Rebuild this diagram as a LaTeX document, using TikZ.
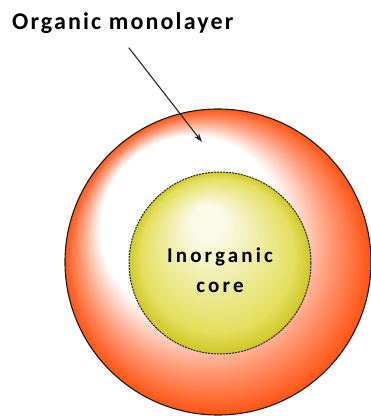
\documentclass[tikz,border=0pt]{standalone}
\usepackage{fontspec}
\setmainfont{Carlito}
\usepackage{tikz}
\usetikzlibrary{arrows.meta, positioning, calc}
\definecolor{shellred}{HTML}{FF5514}
\definecolor{shellmid}{HTML}{FF9A76}
\definecolor{coreolive}{HTML}{D0C828}
\definecolor{coremid}{HTML}{E4DF5E}
\definecolor{corelight}{HTML}{FBFAE6}

\begin{document}
\begin{tikzpicture}[
    x=1pt, y=1pt,
    shell_ring/.style={circle, draw=black!90, line width=1.1pt, minimum size=306pt, inner sep=0pt},
    core_disc/.style={circle, draw=black!85, line width=1pt, dash pattern=on 2pt off 1pt, minimum size=182pt, inner sep=0pt},
    core_text/.style={align=center, inner sep=0pt, font=\addfontfeatures{LetterSpace=15}\fontsize{21}{30}\selectfont\bfseries},
    arrow/.style={-{Stealth[length=9pt, width=6pt]}, line width=1.1pt, draw=black!85},
    label/.style={font=\addfontfeatures{LetterSpace=9}\fontsize{24}{26}\selectfont\bfseries, inner sep=0pt, anchor=west}
]
\useasboundingbox (0,0) rectangle (371,416);

\coordinate (shellc) at (218,154);
\coordinate (corec) at (220,153);

\foreach \k in {0,...,25}{
  \pgfmathsetmacro\t{0.18*\k/25}
  \pgfmathsetmacro\p{100*\k/25}
  \fill[shellmid!\p!shellred] ($(shellc)+\t*(-65,85)$) circle ({153*(1-\t)});
}
\foreach \k in {0,...,30}{
  \pgfmathsetmacro\t{0.18+0.22*\k/30}
  \pgfmathsetmacro\p{100*\k/30}
  \fill[white!\p!shellmid] ($(shellc)+\t*(-65,85)$) circle ({153*(1-\t)});
}
\node[shell_ring] (shell) at (shellc) {};

\foreach \k in {0,...,15}{
  \pgfmathsetmacro\t{0.15*\k/15}
  \pgfmathsetmacro\p{100*\k/15}
  \fill[coremid!\p!coreolive] ($(corec)+\t*(-15,50)$) circle ({91*(1-\t)});
}
\foreach \k in {0,...,40}{
  \pgfmathsetmacro\t{0.15+0.65*\k/40}
  \pgfmathsetmacro\p{100*\k/40}
  \fill[corelight!\p!coremid] ($(corec)+\t*(-15,50)$) circle ({91*(1-\t)});
}
\node[core_disc] (core) at (corec) {};
\node[core_text] (coretxt) at ([yshift=-7pt]core.center) {Inorganic\\core};

\node[label] (lbl) at (12,393) {Organic monolayer};
\coordinate (tip) at (202,274);

\draw[arrow] ([xshift=6pt,yshift=-14pt]lbl.south) -- (tip);

\end{tikzpicture}
\end{document}
